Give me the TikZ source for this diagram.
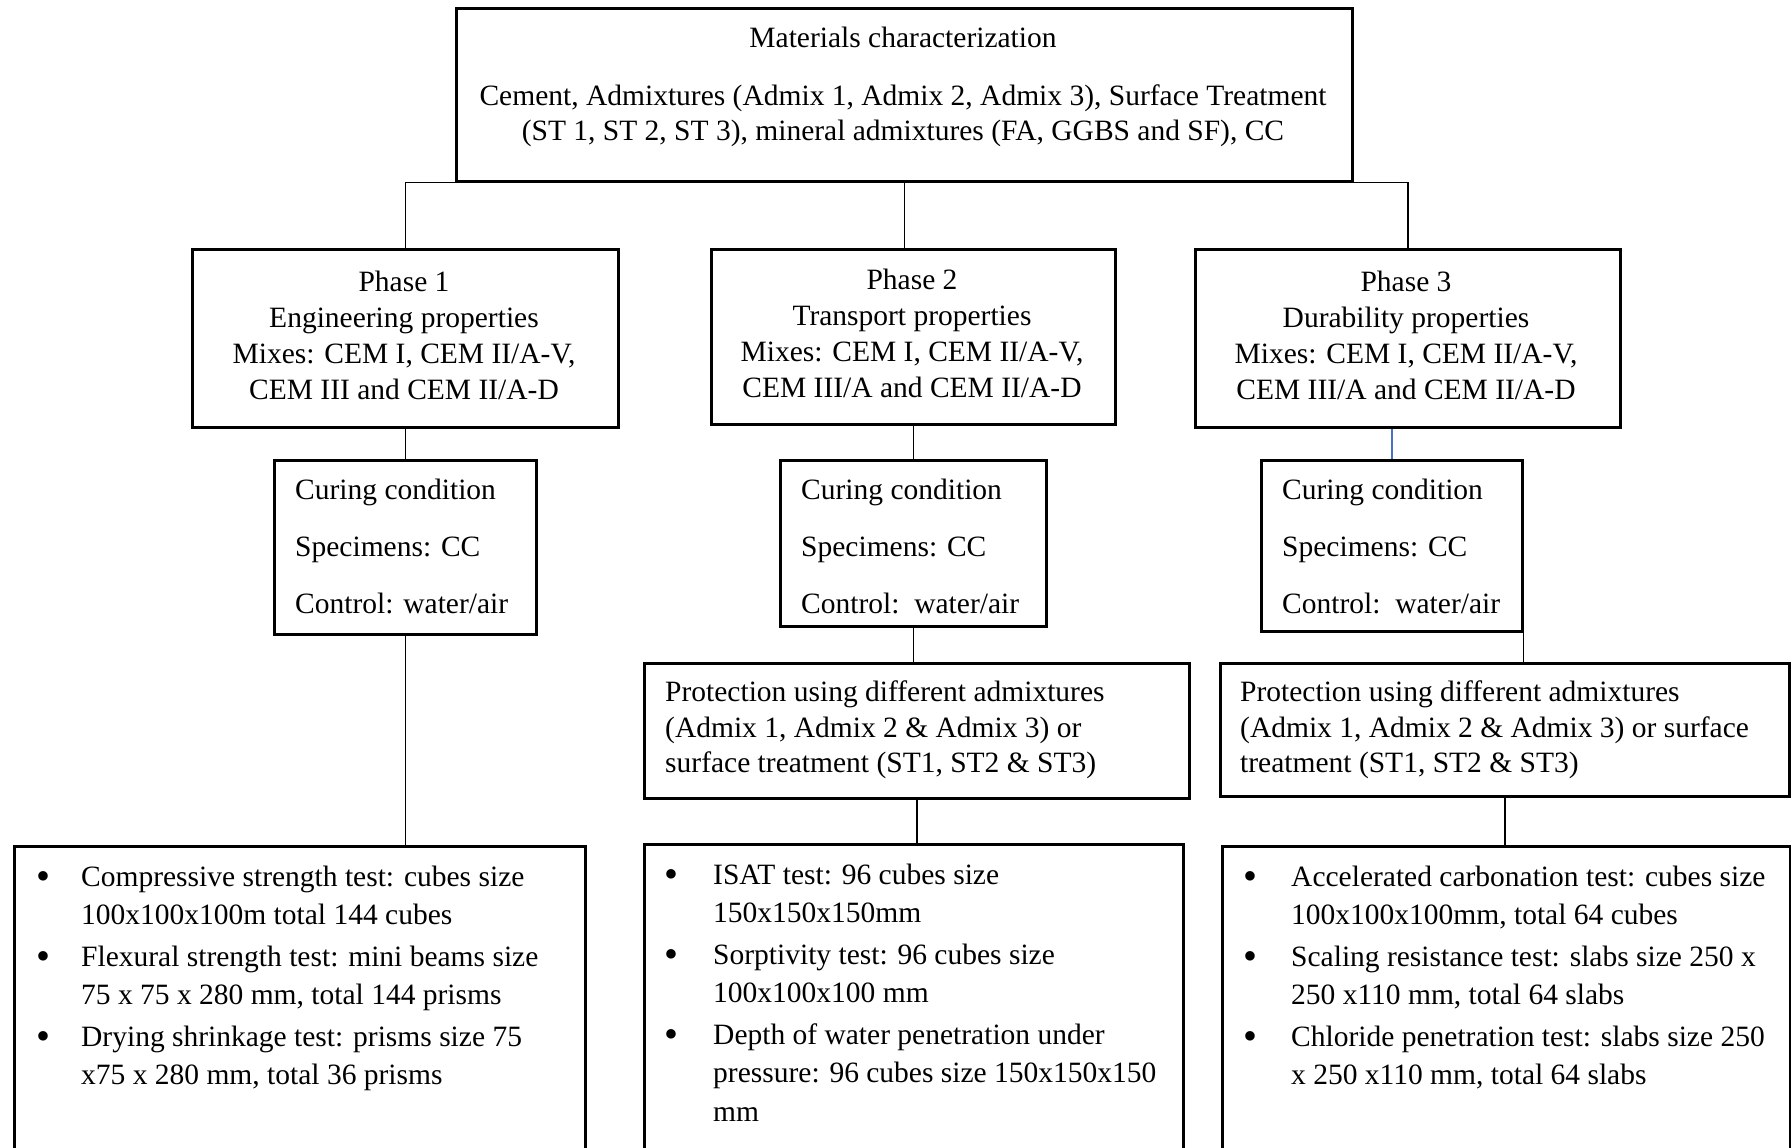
\documentclass[tikz,border=0pt]{standalone}
\usepackage{fontspec}
\setmainfont{Liberation Serif}
\definecolor{linkblue}{HTML}{4472C4}
\newcommand{\bigdot}{\raisebox{-3.5pt}{\scalebox{1.35}{•}}}
\begin{document}
\begin{tikzpicture}[x=1pt,y=-1pt]
\tikzset{
  box/.style={draw, line width=2.6pt, inner sep=0pt, anchor=north west},
  conn/.style={line width=1.4pt},
  txt/.style={inner sep=0pt, font=\fontsize{29.5}{36}\selectfont},
  curtxt/.style={inner sep=0pt, anchor=west, align=left, font=\fontsize{29.5}{57}\selectfont},
  prottxt/.style={inner sep=0pt, anchor=west, align=left, font=\fontsize{29.5}{35.5}\selectfont},
  testtxt/.style={inner sep=0pt, anchor=west, font=\fontsize{29.5}{38.5}\selectfont}
}
\useasboundingbox (0,0) rectangle (1791,1148);
\clip (0,0) rectangle (1791,1148);

% boxes
\node[box, minimum width=896pt, minimum height=173pt] (top) at (455,7) {};
\node[box, minimum width=426pt, minimum height=178pt] (p1) at (191,248) {};
\node[box, minimum width=404pt, minimum height=175pt] (p2) at (710,248) {};
\node[box, minimum width=425pt, minimum height=178pt] (p3) at (1194,248) {};
\node[box, minimum width=262pt, minimum height=174pt] (c1) at (273,459) {};
\node[box, minimum width=266pt, minimum height=166pt] (c2) at (779,459) {};
\node[box, minimum width=261pt, minimum height=171pt] (c3) at (1260,459) {};
\node[box, minimum width=545pt, minimum height=135pt] (pr2) at (643,662) {};
\node[box, minimum width=569pt, minimum height=133pt] (pr3) at (1219,662) {};
\node[box, minimum width=571pt, minimum height=330pt] (t1) at (13,845) {};
\node[box, minimum width=539pt, minimum height=330pt] (t2) at (643,843) {};
\node[box, minimum width=568pt, minimum height=330pt] (t3) at (1221,845) {};

% texts
\node[txt] (toptitle) at (903,37) {Materials characterization};
\node[txt, align=center, font=\fontsize{29.5}{35}\selectfont] (topbody) at (903,115.5)
  {Cement, Admixtures (Admix 1, Admix 2, Admix 3), Surface Treatment\\(ST 1, ST 2, ST 3), mineral admixtures (FA, GGBS and SF), CC};

\node[txt, align=center] (p1t) at (404,335) {Phase 1\\Engineering properties\\Mixes: CEM I, CEM II/A-V,\\CEM III and CEM II/A-D};
\node[txt, align=center] (p2t) at (912,333) {Phase 2\\Transport properties\\Mixes: CEM I, CEM II/A-V,\\CEM III/A and CEM II/A-D};
\node[txt, align=center] (p3t) at (1406,335) {Phase 3\\Durability properties\\Mixes: CEM I, CEM II/A-V,\\CEM III/A and CEM II/A-D};

\node[curtxt] (c1t) at (295,546) {Curing condition\\Specimens: CC\\Control: water/air};
\node[curtxt] (c2t) at (801,546) {Curing condition\\Specimens: CC\\Control:\ \ water/air};
\node[curtxt] (c3t) at (1282,546) {Curing condition\\Specimens: CC\\Control:\ \ water/air};

\node[prottxt] (pr2t) at (665,730) {Protection using different admixtures\\(Admix 1, Admix 2 \& Admix 3) or\\surface treatment (ST1, ST2 \& ST3)};
\node[prottxt] (pr3t) at (1240,730) {Protection using different admixtures\\(Admix 1, Admix 2 \& Admix 3) or surface\\treatment (ST1, ST2 \& ST3)};

\node[testtxt] (t1t) at (36,978) {\begin{tabular}{@{}p{45pt}@{}l@{}}
\bigdot&Compressive strength test: cubes size\\
 &100x100x100m total 144 cubes\\[3pt]
\bigdot&Flexural strength test: mini beams size\\
 &75 x 75 x 280 mm, total 144 prisms\\[3pt]
\bigdot&Drying shrinkage test: prisms size 75\\
 &x75 x 280 mm, total 36 prisms
\end{tabular}};
\node[testtxt] (t2t) at (664,995) {\begin{tabular}{@{}p{49pt}@{}l@{}}
\bigdot&ISAT test: 96 cubes size\\
 &150x150x150mm\\[3pt]
\bigdot&Sorptivity test: 96 cubes size\\
 &100x100x100 mm\\[3pt]
\bigdot&Depth of water penetration under\\
 &pressure: 96 cubes size 150x150x150\\
 &mm
\end{tabular}};
\node[testtxt] (t3t) at (1243,978) {\begin{tabular}{@{}p{48pt}@{}l@{}}
\bigdot&Accelerated carbonation test: cubes size\\
 &100x100x100mm, total 64 cubes\\[3pt]
\bigdot&Scaling resistance test: slabs size 250 x\\
 &250 x110 mm, total 64 slabs\\[3pt]
\bigdot&Chloride penetration test: slabs size 250\\
 &x 250 x110 mm, total 64 slabs
\end{tabular}};

% connectors
\draw[conn] (p1.north) |- (p3.north |- top.south) -- (p3.north);
\draw[conn] (top.south) -- (top.south |- p2.north);
\draw[conn] (p1.south) -- (c1.north);
\draw[conn] (c1.south) -- (c1.south |- t1.north);
\draw[conn] (p2.south) -- (c2.north);
\draw[conn] (c2.south) -- (c2.south |- pr2.north);
\draw[conn] (pr2.south) -- (pr2.south |- t2.north);
\draw[conn, linkblue] (c3.north) -- (c3.north |- p3.south);
\draw[conn] (c3.south east) -- (c3.south east |- pr3.north);
\draw[conn] (pr3.south) -- (pr3.south |- t3.north);
\end{tikzpicture}
\end{document}
